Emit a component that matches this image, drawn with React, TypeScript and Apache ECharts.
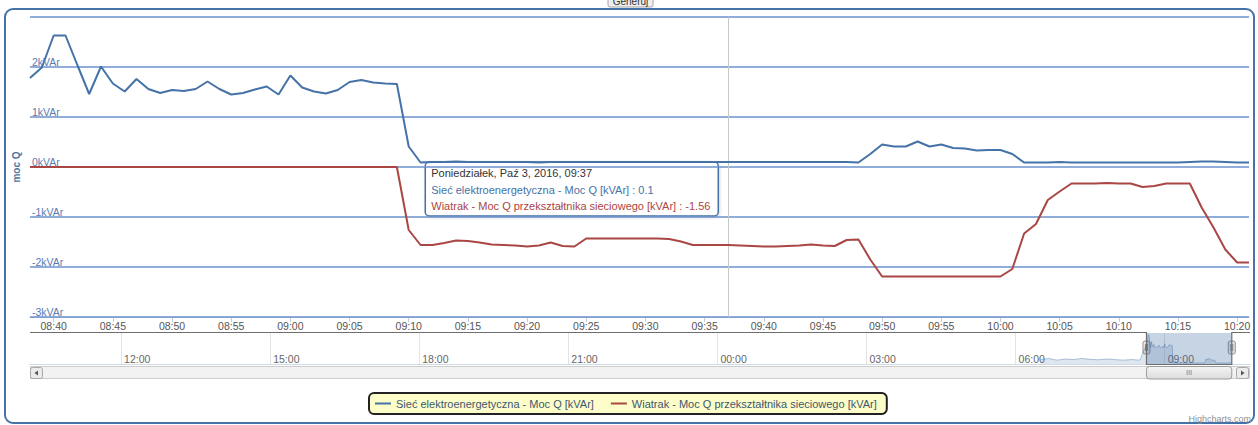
import React, { useEffect, useRef } from "react";
import * as echarts from "echarts";

const FONT = "'Liberation Sans', Arial, sans-serif";

const seriesNames = [
  "Sieć elektroenergetyczna - Moc Q [kVAr]",
  "Wiatrak - Moc Q przekształtnika sieciowego [kVAr]",
];
const seriesColors = ["#4572A7", "#AA4643"];
const gridLineColor = "#6b90cc";

// one reading per minute on 2016-10-03, from 08:38 to 10:21
const chartDate = [2016, 10, 3];
const firstMinute = "08:38";
const lastMinute = "10:21";

const yTickValues = [-3, -2, -1, 0, 1, 2, 3];

const siecValues = [
  1.78, 1.99, 2.63, 2.63, 2.04, 1.46, 2.01, 1.67, 1.51, 1.76,
  1.56, 1.48, 1.54, 1.52, 1.56, 1.71, 1.56, 1.45, 1.48, 1.55,
  1.61, 1.45, 1.83, 1.59, 1.51, 1.47, 1.54, 1.7, 1.74, 1.69,
  1.67, 1.66, 0.41, 0.09,
  0.1, 0.1, 0.11, 0.1, 0.1, 0.1, 0.1, 0.1, 0.1, 0.09,
  0.1, 0.1, 0.1, 0.1, 0.1, 0.1, 0.1, 0.1, 0.1, 0.1,
  0.1, 0.1, 0.1, 0.1, 0.1, 0.1, 0.1, 0.1, 0.1, 0.1,
  0.1, 0.1, 0.1, 0.1, 0.1, 0.1,
  0.09, 0.26, 0.45, 0.41, 0.41, 0.51, 0.41, 0.45, 0.38, 0.37,
  0.33, 0.34, 0.34, 0.26, 0.09,
  0.09, 0.09, 0.1, 0.09, 0.09, 0.09, 0.09, 0.09, 0.09, 0.09,
  0.09, 0.09, 0.09, 0.1, 0.11, 0.11, 0.1, 0.09, 0.09,
];

const wiatrakValues = [
  0, 0, 0, 0, 0, 0, 0, 0, 0, 0,
  0, 0, 0, 0, 0, 0, 0, 0, 0, 0,
  0, 0, 0, 0, 0, 0, 0, 0, 0, 0,
  0, 0,
  -1.26, -1.56, -1.56, -1.52, -1.47, -1.48, -1.51, -1.55, -1.56, -1.57,
  -1.59, -1.57, -1.51, -1.58, -1.59, -1.43, -1.43, -1.43, -1.43, -1.43,
  -1.43, -1.43, -1.44, -1.49, -1.56, -1.56, -1.56, -1.56, -1.57, -1.58,
  -1.59, -1.59, -1.58, -1.57, -1.55, -1.57, -1.58, -1.46, -1.45, -1.85,
  -2.19, -2.19, -2.19, -2.19, -2.19, -2.19, -2.19, -2.19, -2.19, -2.19,
  -2.19, -2.04, -1.33, -1.14, -0.66, -0.49, -0.33, -0.33, -0.33, -0.32,
  -0.33, -0.33, -0.4, -0.38, -0.33, -0.33, -0.33, -0.81, -1.21, -1.65,
  -1.91, -1.91,
];

const xTickLabels = [
  "08:40", "08:45", "08:50", "08:55", "09:00", "09:05", "09:10", "09:15",
  "09:20", "09:25", "09:30", "09:35", "09:40", "09:45", "09:50", "09:55",
  "10:00", "10:05", "10:10", "10:15", "10:20",
];

// navigator (overview of the previous 24 h); day offset -1 = 2016-10-02
const navTickLabels = ["12:00", "15:00", "18:00", "21:00", "00:00", "03:00", "06:00", "09:00"];
const navTickDays = [-1, -1, -1, -1, 0, 0, 0, 0];
const navStart = "10:10"; // on day -1
const navEnd = "10:43"; // on day 0
const navEarlyTimes = [
  "06:30", "06:40", "06:50", "07:00", "07:10", "07:20", "07:30",
  "07:40", "07:50", "08:00", "08:10", "08:20", "08:30",
];
const navEarlyValues = [0.4, 0.5, 0.35, 0.45, 0.4, 0.5, 0.42, 0.38, 0.45, 0.4, 0.35, 0.4, 0.35];

const tooltipAt = "09:37";
const dayNames = ["Niedziela", "Poniedziałek", "Wtorek", "Środa", "Czwartek", "Piątek", "Sobota"];
const monthNames = ["Sty", "Lut", "Mar", "Kwi", "Maj", "Cze", "Lip", "Sie", "Wrz", "Paź", "Lis", "Gru"];

// minutes since midnight of the chart day
function mins(hm: string, dayOffset = 0) {
  const [h, m] = hm.split(":").map(Number);
  return dayOffset * 1440 + h * 60 + m;
}
const pad = (n: number) => String(n).padStart(2, "0");
const fmtHM = (v: number) => {
  const m = ((Math.round(v) % 1440) + 1440) % 1440;
  return pad(Math.floor(m / 60)) + ":" + pad(m % 60);
};

export default function App() {
  const ref = useRef<HTMLDivElement>(null);

  useEffect(() => {
    if (!ref.current) return;
    const chart = echarts.init(ref.current, null, { renderer: "svg" });

    const t0 = mins(firstMinute);
    const tEnd = mins(lastMinute);
    const times = siecValues.map((_, i) => t0 + i);
    const siecData = siecValues.map((v, i) => [times[i], v]);
    const wiatrakData = wiatrakValues.map((v, i) => [times[i], v]);
    const xTicks = xTickLabels.map((l) => mins(l));
    const navTicks = navTickLabels.map((l, i) => mins(l, navTickDays[i]));
    const navData = [
      ...navEarlyTimes.map((l, i) => [mins(l), navEarlyValues[i]]),
      ...siecData,
    ];
    const tipT = mins(tooltipAt);
    const tipIdx = times.indexOf(tipT);

    chart.setOption({
      animation: false,
      backgroundColor: "#ffffff",
      textStyle: { fontFamily: FONT },
      grid: [
        { left: 30, right: 9, top: 17, height: 300, containLabel: false, outerBoundsMode: "none" },
        { left: 30, right: 8, top: 333, height: 31, containLabel: false, outerBoundsMode: "none" },
      ],
      legend: {
        left: 369,
        top: 393,
        padding: [5, 10, 5, 6],
        itemGap: 17,
        itemWidth: 16,
        itemHeight: 2,
        icon: "rect",
        backgroundColor: "#fdfdc9",
        borderColor: "#222222",
        borderWidth: 2,
        borderRadius: 5,
        selectedMode: false,
        textStyle: { fontFamily: FONT, fontSize: 11, color: "#3E576F" },
        data: seriesNames,
      },
      xAxis: [
        {
          type: "value",
          gridIndex: 0,
          min: t0,
          max: tEnd,
          axisLine: { show: true, onZero: false, lineStyle: { color: "#C0D0E0", width: 1 } },
          axisTick: { show: true, customValues: xTicks, length: 5, lineStyle: { color: "#C0D0E0" } },
          axisLabel: {
            customValues: xTicks,
            formatter: (v: number) => fmtHM(v),
            color: "#555555",
            fontSize: 10.5,
            fontFamily: FONT,
            margin: 3,
            hideOverlap: false,
          },
          splitLine: { show: false },
        },
        {
          type: "value",
          gridIndex: 1,
          min: mins(navStart, -1),
          max: mins(navEnd, 0),
          axisLine: { show: true, onZero: false, lineStyle: { color: "#d0dbe8", width: 1 } },
          axisTick: {
            show: true,
            customValues: navTicks,
            inside: true,
            length: 31,
            lineStyle: { color: "#e4e4e4" },
          },
          axisLabel: {
            customValues: navTicks,
            inside: true,
            formatter: (v: number) => fmtHM(v),
            align: "left",
            verticalAlign: "bottom",
            padding: [0, 0, 0, 3],
            margin: 0,
            color: "#666666",
            fontSize: 10.5,
            fontFamily: FONT,
            hideOverlap: false,
          },
          splitLine: { show: false },
        },
      ],
      yAxis: [
        {
          type: "value",
          gridIndex: 0,
          min: -3,
          max: 3,
          interval: 1,
          axisLine: { show: false },
          axisTick: { show: false },
          splitLine: { show: false },
          axisLabel: {
            inside: true,
            margin: 2,
            verticalAlign: "bottom",
            showMaxLabel: false,
            formatter: (v: number) => v + "kVAr",
            color: "#5a7bb0",
            fontSize: 10.5,
            fontFamily: FONT,
          },
          name: "moc Q",
          nameLocation: "middle",
          nameGap: 7,
          nameTextStyle: { fontWeight: "bold", color: "#4d759e", fontSize: 10, fontFamily: FONT },
        },
        {
          type: "value",
          gridIndex: 1,
          min: 0,
          max: 2.8,
          show: false,
        },
      ],
      series: [
        {
          name: "gridlines",
          type: "line",
          xAxisIndex: 0,
          yAxisIndex: 0,
          data: [],
          silent: true,
          z: 1,
          markLine: {
            silent: true,
            z: 1,
            symbol: ["none", "none"],
            label: { show: false },
            lineStyle: { color: gridLineColor, width: 1.5, type: "solid", opacity: 1 },
            emphasis: { disabled: true },
            data: yTickValues.map((v) => ({ yAxis: v })),
          },
        },
        {
          name: seriesNames[0],
          type: "line",
          xAxisIndex: 0,
          yAxisIndex: 0,
          data: siecData,
          showSymbol: false,
          symbol: "none",
          silent: true,
          z: 3,
          lineStyle: { color: seriesColors[0], width: 2 },
          itemStyle: { color: seriesColors[0] },
          markLine: {
            silent: true,
            z: 2,
            symbol: ["none", "none"],
            label: { show: false },
            lineStyle: { color: "#c8c8c8", width: 1, type: "solid" },
            data: [{ xAxis: tipT }],
          },
        },
        {
          name: seriesNames[1],
          type: "line",
          xAxisIndex: 0,
          yAxisIndex: 0,
          data: wiatrakData,
          showSymbol: false,
          symbol: "none",
          silent: true,
          z: 3,
          lineStyle: { color: seriesColors[1], width: 2 },
          itemStyle: { color: seriesColors[1] },
        },
        {
          name: "navigator",
          type: "line",
          xAxisIndex: 1,
          yAxisIndex: 1,
          data: navData,
          showSymbol: false,
          symbol: "none",
          silent: true,
          lineStyle: { color: "#4572A7", width: 1, opacity: 0.4 },
          areaStyle: { color: "rgba(69,114,167,0.25)" },
          markArea: {
            silent: true,
            itemStyle: { color: "rgba(69,114,167,0.3)" },
            data: [[{ xAxis: t0 }, { xAxis: tEnd }]],
          },
        },
      ],
    });

    const xL = chart.convertToPixel({ xAxisIndex: 1 }, t0) as number;
    const xR = chart.convertToPixel({ xAxisIndex: 1 }, tEnd) as number;
    const crossX = chart.convertToPixel({ xAxisIndex: 0 }, tipT) as number;

    const d = new Date(chartDate[0], chartDate[1] - 1, chartDate[2]);
    const tipTitle = `${dayNames[d.getDay()]}, ${monthNames[d.getMonth()]} ${d.getDate()}, ${d.getFullYear()}, ${fmtHM(tipT)}`;
    const tipW = 293;
    const tipX = crossX - 10 - tipW;
    const tipY = 162;

    const handle = (x: number) => ({
      type: "group",
      z: 60,
      children: [
        {
          type: "rect",
          shape: { x: x - 3.5, y: 341, width: 7, height: 13, r: 2 },
          style: { fill: "#ebe7e8", stroke: "#909090", lineWidth: 1 },
        },
        { type: "line", shape: { x1: x - 1, y1: 344, x2: x - 1, y2: 351 }, style: { stroke: "#888", lineWidth: 1 } },
        { type: "line", shape: { x1: x + 1, y1: 344, x2: x + 1, y2: 351 }, style: { stroke: "#888", lineWidth: 1 } },
      ],
    });

    const thumbMid = (xL + xR) / 2;

    chart.setOption({
      graphic: [
        {
          type: "rect",
          z: 100,
          shape: { x: 5, y: 9, width: 1249, height: 414, r: 8 },
          style: { fill: "none", stroke: "#4572A7", lineWidth: 2 },
        },
        {
          type: "group",
          z: 100,
          children: [
            {
              type: "rect",
              shape: { x: 608, y: -8, width: 45, height: 15, r: 2 },
              style: { fill: "#eeeeee", stroke: "#a8a8a8", lineWidth: 1 },
            },
            {
              type: "text",
              style: {
                x: 630.5,
                y: 1.5,
                text: "Generuj",
                align: "center",
                verticalAlign: "middle",
                fontSize: 10,
                fontFamily: FONT,
                fill: "#333",
              },
            },
          ],
        },
        {
          type: "group",
          z: 120,
          children: [
            {
              type: "rect",
              shape: { x: tipX, y: tipY, width: tipW, height: 54, r: 4 },
              style: {
                fill: "rgba(255,255,255,0.96)",
                stroke: "#4572A7",
                lineWidth: 1.5,
                shadowBlur: 3,
                shadowOffsetX: 1,
                shadowOffsetY: 1,
                shadowColor: "rgba(0,0,0,0.15)",
              },
            },
            {
              type: "text",
              style: { x: tipX + 6, y: tipY + 11, text: tipTitle, verticalAlign: "middle", fontSize: 11, fontFamily: FONT, fill: "#333333" },
            },
            {
              type: "text",
              style: {
                x: tipX + 6,
                y: tipY + 28,
                text: `${seriesNames[0]} : ${siecValues[tipIdx]}`,
                verticalAlign: "middle",
                fontSize: 11,
                fontFamily: FONT,
                fill: seriesColors[0],
              },
            },
            {
              type: "text",
              style: {
                x: tipX + 6,
                y: tipY + 44,
                text: `${seriesNames[1]} : ${wiatrakValues[tipIdx]}`,
                verticalAlign: "middle",
                fontSize: 11,
                fontFamily: FONT,
                fill: seriesColors[1],
              },
            },
          ],
        },
        {
          type: "polyline",
          z: 50,
          shape: {
            points: [
              [30, 332.5],
              [xL, 332.5],
              [xL, 364.5],
              [xR, 364.5],
              [xR, 332.5],
              [1250, 332.5],
            ],
          },
          style: { stroke: "#6e6e6e", lineWidth: 1.2, fill: "none" },
        },
        handle(xL),
        handle(xR),
        {
          type: "group",
          z: 50,
          children: [
            {
              type: "rect",
              shape: { x: 30.5, y: 366.5, width: 1219, height: 12 },
              style: { fill: "#f2f2f2", stroke: "#cccccc", lineWidth: 1 },
            },
            {
              type: "rect",
              shape: { x: 30.5, y: 367.5, width: 12, height: 11, r: 2 },
              style: { fill: "#ebebeb", stroke: "#a8a8a8", lineWidth: 1 },
            },
            {
              type: "polygon",
              shape: { points: [[34.5, 373], [38, 370.5], [38, 375.5]] },
              style: { fill: "#555" },
            },
            {
              type: "rect",
              shape: { x: 1236.5, y: 367.5, width: 12, height: 11, r: 2 },
              style: { fill: "#ebebeb", stroke: "#a8a8a8", lineWidth: 1 },
            },
            {
              type: "polygon",
              shape: { points: [[1244.5, 373], [1241, 370.5], [1241, 375.5]] },
              style: { fill: "#555" },
            },
            {
              type: "rect",
              shape: { x: xL, y: 366.5, width: xR - xL, height: 12.5, r: 3 },
              style: {
                fill: new echarts.graphic.LinearGradient(0, 0, 0, 1, [
                  { offset: 0, color: "#f4f4f4" },
                  { offset: 1, color: "#dcdcdc" },
                ]),
                stroke: "#9a9a9a",
                lineWidth: 1,
              },
            },
            { type: "line", shape: { x1: thumbMid - 2, y1: 370, x2: thumbMid - 2, y2: 375 }, style: { stroke: "#999", lineWidth: 1 } },
            { type: "line", shape: { x1: thumbMid, y1: 370, x2: thumbMid, y2: 375 }, style: { stroke: "#999", lineWidth: 1 } },
            { type: "line", shape: { x1: thumbMid + 2, y1: 370, x2: thumbMid + 2, y2: 375 }, style: { stroke: "#999", lineWidth: 1 } },
          ],
        },
        {
          type: "text",
          z: 100,
          style: {
            x: 1251,
            y: 419,
            text: "Highcharts.com",
            align: "right",
            verticalAlign: "middle",
            fontSize: 9,
            fontFamily: FONT,
            fill: "#909090",
          },
        },
      ],
    });

    return () => chart.dispose();
  }, []);

  return (
    <div
      ref={ref}
      style={{ position: "fixed", left: 0, top: 0, width: 1258, height: 425, background: "#fff" }}
    />
  );
}
